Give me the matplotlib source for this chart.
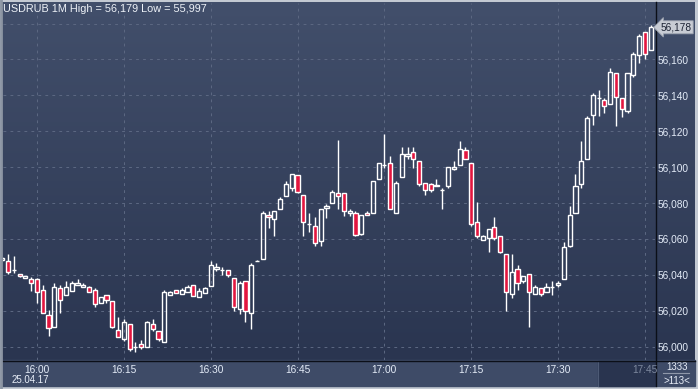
import numpy as np
import matplotlib
matplotlib.use('Agg')
import matplotlib.pyplot as plt
import matplotlib.transforms as mtransforms
from matplotlib.patches import Rectangle

# minutes from 16:00 (15:54 .. 17:46)
minutes = list(range(-6, 107))

# prices as thousandths above 56.000
opens = [48.5, 47.7, 42.5, 40.3, 38.0, 37.7, 37.5, 31.4, 17.4, 11.1, 32.5, 28.6, 31.2, 34.1, 33.0, 33.0,
         31.4, 24.1, 28.6, 25.2, 9.1, 4.1, 12.4, 0.0, 1.3, 0.0, 12.4, 8.5, 2.4, 29.0, 31.4, 29.2,
         30.3, 34.2, 27.5, 30.1, 34.0, 43.1, 42.7, 42.5, 38.1, 21.2, 36.4, 19.0, 47.6, 49.0, 73.2, 71.3,
         76.5, 84.1, 88.2, 95.5, 84.3, 68.2, 67.1, 59.1, 77.1, 80.2, 85.4, 85.4, 74.3, 74.3, 62.8, 74.3,
         74.3, 93.2, 101.2, 102.2, 74.3, 94.4, 106.1, 108.3, 103.3, 91.0, 90.5, 89.3, 87.1, 89.3, 99.0, 101.1,
         109.4, 102.2, 69.3, 59.3, 60.4, 66.4, 61.4, 51.4, 29.1, 43.1, 36.4, 40.3, 29.1, 32.5, 30.2, 33.0,
         34.1, 37.5, 56.2, 74.2, 90.4, 104.3, 128.8, 138.5, 137.2, 135.0, 152.3, 138.3, 131.1, 151.1, 162.3, 175.1,
         165.1]
highs = [50.0, 51.6, 50.7, 40.3, 39.2, 38.6, 38.4, 34.3, 20.4, 35.6, 34.3, 36.6, 36.7, 37.7, 35.3, 34.0,
         32.9, 27.5, 28.6, 25.2, 16.3, 15.2, 12.4, 2.4, 3.7, 14.3, 15.4, 8.5, 31.4, 31.2, 31.4, 32.5,
         34.4, 34.2, 32.5, 33.5, 47.7, 46.5, 44.4, 42.5, 38.1, 36.6, 36.4, 46.5, 48.4, 75.6, 75.6, 75.6,
         83.4, 92.1, 96.0, 95.5, 84.3, 74.3, 72.1, 76.5, 79.5, 87.1, 115.2, 85.4, 76.7, 75.6, 73.2, 75.6,
         92.1, 102.2, 118.5, 106.2, 92.1, 111.1, 111.1, 111.1, 103.3, 91.0, 91.0, 93.2, 88.2, 99.9, 103.3, 114.4,
         111.1, 102.2, 80.4, 62.1, 65.4, 72.2, 61.4, 51.4, 51.4, 45.3, 39.2, 40.3, 34.1, 32.5, 35.3, 36.4,
         36.4, 58.1, 78.2, 96.2, 114.7, 128.7, 141.1, 142.8, 138.3, 155.0, 152.3, 138.3, 152.3, 163.9, 174.0, 175.1,
         179.4]
lows = [48.0, 40.3, 40.8, 38.6, 38.0, 31.2, 24.1, 18.5, 6.1, 11.1, 18.9, 28.6, 31.2, 34.1, 33.0, 30.2,
        22.3, 24.1, 24.1, 10.2, 5.2, 3.3, -2.6, -3.2, -1.5, 0.0, 8.9, 3.3, 2.4, 29.0, 30.1, 29.2,
        30.3, 28.4, 27.5, 30.1, 34.0, 42.2, 39.9, 39.0, 20.1, 18.2, 13.8, 9.9, 47.6, 49.0, 66.3, 61.9,
        76.5, 84.1, 86.9, 85.4, 61.9, 64.1, 56.3, 56.3, 71.9, 80.2, 76.7, 73.0, 73.0, 61.5, 62.1, 73.2,
        74.3, 93.2, 99.4, 76.5, 74.3, 94.4, 104.4, 99.4, 89.3, 84.3, 86.0, 89.3, 76.7, 88.2, 98.3, 101.1,
        104.4, 67.1, 60.4, 59.3, 52.6, 59.2, 52.0, 20.0, 27.4, 31.4, 35.3, 11.1, 29.1, 28.4, 30.2, 28.6,
        33.0, 37.5, 55.3, 74.2, 88.2, 104.3, 123.6, 128.3, 130.0, 135.0, 123.1, 128.1, 130.0, 150.0, 157.8, 160.0,
        165.1]
closes = [49.5, 41.4, 42.5, 39.2, 39.2, 35.3, 30.2, 18.5, 10.2, 33.0, 26.2, 33.0, 35.3, 35.3, 34.1, 30.2,
          23.6, 27.5, 26.2, 11.1, 5.2, 13.5, -1.5, 0.0, -0.4, 13.7, 9.8, 4.2, 30.2, 30.3, 30.1, 31.4,
          33.1, 28.4, 31.2, 32.5, 45.3, 44.4, 42.7, 40.1, 22.3, 35.3, 20.1, 45.3, 47.6, 74.5, 72.1, 75.6,
          82.3, 90.5, 96.0, 86.0, 69.3, 68.2, 58.0, 76.5, 78.4, 86.2, 84.2, 75.4, 75.6, 62.0, 73.2, 73.2,
          92.1, 102.2, 101.2, 76.5, 91.0, 107.2, 107.2, 104.4, 90.5, 87.1, 87.1, 90.2, 87.1, 99.9, 99.9, 110.0,
          104.4, 68.2, 61.5, 61.5, 65.4, 60.3, 52.9, 30.2, 41.4, 35.3, 39.2, 30.2, 33.0, 29.1, 33.0, 33.0,
          35.3, 55.3, 73.1, 89.3, 103.2, 127.5, 140.0, 138.5, 133.9, 152.8, 138.9, 132.2, 152.3, 162.8, 172.9, 162.8,
          177.9]

time_ticks = [0, 15, 30, 45, 60, 75, 90, 105]
time_labels = ['16:00', '16:15', '16:30', '16:45', '17:00', '17:15', '17:30', '17:45']
price_ticks = [56.000, 56.020, 56.040, 56.060, 56.080, 56.100, 56.120, 56.140, 56.160, 56.180]

o = 56 + np.array(opens) / 1000
h = 56 + np.array(highs) / 1000
l = 56 + np.array(lows) / 1000
c = 56 + np.array(closes) / 1000
x = np.array(minutes)

W, H = 698, 389
fig = plt.figure(figsize=(W / 100, H / 100), dpi=100)
plt.rcParams['font.family'] = ['Liberation Sans', 'DejaVu Sans']

# background in pixel coordinates
bg = fig.add_axes([0, 0, 1, 1])
bg.set_xlim(0, W)
bg.set_ylim(H, 0)
bg.axis('off')
fig.patch.set_facecolor('#c3c9d2')
top_col = np.array([0x42, 0x4f, 0x6b]) / 255
bot_col = np.array([0x2a, 0x35, 0x50]) / 255
t = np.linspace(0, 1, 256)[:, None, None]
grad = top_col * (1 - t) + bot_col * t
bg.imshow(grad, extent=(2, 695, 360, 2), aspect='auto', zorder=0)
bg.add_patch(Rectangle((2, 360), 693, 26, color='#3e4b67', zorder=1))
bg.add_patch(Rectangle((598, 361), 57, 25, color='#29344f', zorder=2))
bg.plot([598, 598], [361, 386], color='#4d5a75', lw=0.8, zorder=3)
bg.plot([655.5, 655.5], [2, 386], color='#0b0f18', lw=1.0, zorder=4)
bg.plot([2, 695], [360.5, 360.5], color='#0b0f18', lw=1.0, zorder=4)
bg.plot([0.5, 0.5], [0, 389], color='#8c95a3', lw=2, zorder=4)
bg.text(12, 380, '25.04.17', color='#e8eef8', fontsize=7, ha='left', va='center')
bg.text(677, 367.5, '1333', color='#e8eef8', fontsize=7, ha='center', va='center')
bg.plot([663, 689], [372.5, 372.5], color='#8f98aa', lw=0.8)
bg.text(677, 380.5, '>113<', color='#e8eef8', fontsize=7, ha='center', va='center')

# main chart
ax = fig.add_axes([3 / W, 1 - 360 / H, 652 / W, 357 / H])
ax.patch.set_alpha(0)
for s in ax.spines.values():
    s.set_visible(False)
ax.set_xlim(-5.87, 106.74)
ax.set_ylim(55.99259, 56.19143)

ax.set_xticks(time_ticks)
ax.set_xticklabels(time_labels)
ax.set_yticks(price_ticks)
# top label sits under the last-price marker, so it is left blank
ax.set_yticklabels([f'{v:.3f}'.replace('.', ',') for v in price_ticks[:-1]] + [''])
ax.yaxis.tick_right()
ax.tick_params(axis='both', length=0, labelsize=7.3, labelcolor='#e4ecf8')
ax.tick_params(axis='y', pad=2.2)
ax.tick_params(axis='x', pad=3.5)
ax.xaxis.get_ticklabels()[-1].set_color('#7d889e')
ax.grid(True, color='#5b6781', lw=0.75, linestyle=(0, (2.7, 4.0)))
ax.set_axisbelow(True)

up = c >= o
body_lo = np.minimum(o, c)
body_hi = np.maximum(o, c)
ax.vlines(x, l, body_lo, color='white', lw=1.0, zorder=3)
ax.vlines(x, body_hi, h, color='white', lw=1.0, zorder=3)
ax.bar(x[up], (body_hi - body_lo)[up], bottom=body_lo[up], width=0.72,
       facecolor='none', edgecolor='white', linewidth=1.0, zorder=4)
ax.bar(x[~up], (body_hi - body_lo)[~up], bottom=body_lo[~up], width=0.72,
       facecolor='#e3163f', edgecolor='white', linewidth=1.0, zorder=4)

ax.text(0.0, 0.997, 'USDRUB 1M High = 56,179 Low = 55,997', transform=ax.transAxes,
        color='#eef2f8', fontsize=7.8, ha='left', va='top')

trans = mtransforms.blended_transform_factory(ax.transAxes, ax.transData)
ax.annotate(f'{c[-1]:.3f}'.replace('.', ','), xy=(1, c[-1]), xycoords=trans,
            xytext=(4, 0), textcoords='offset points', ha='left', va='center',
            fontsize=7.3, color='#1c2233', zorder=10, annotation_clip=False,
            bbox=dict(boxstyle='larrow,pad=0.15', fc='#c8ccd4', ec='#9aa1ae', lw=0.6))

fig.savefig('out.png', dpi=100)
